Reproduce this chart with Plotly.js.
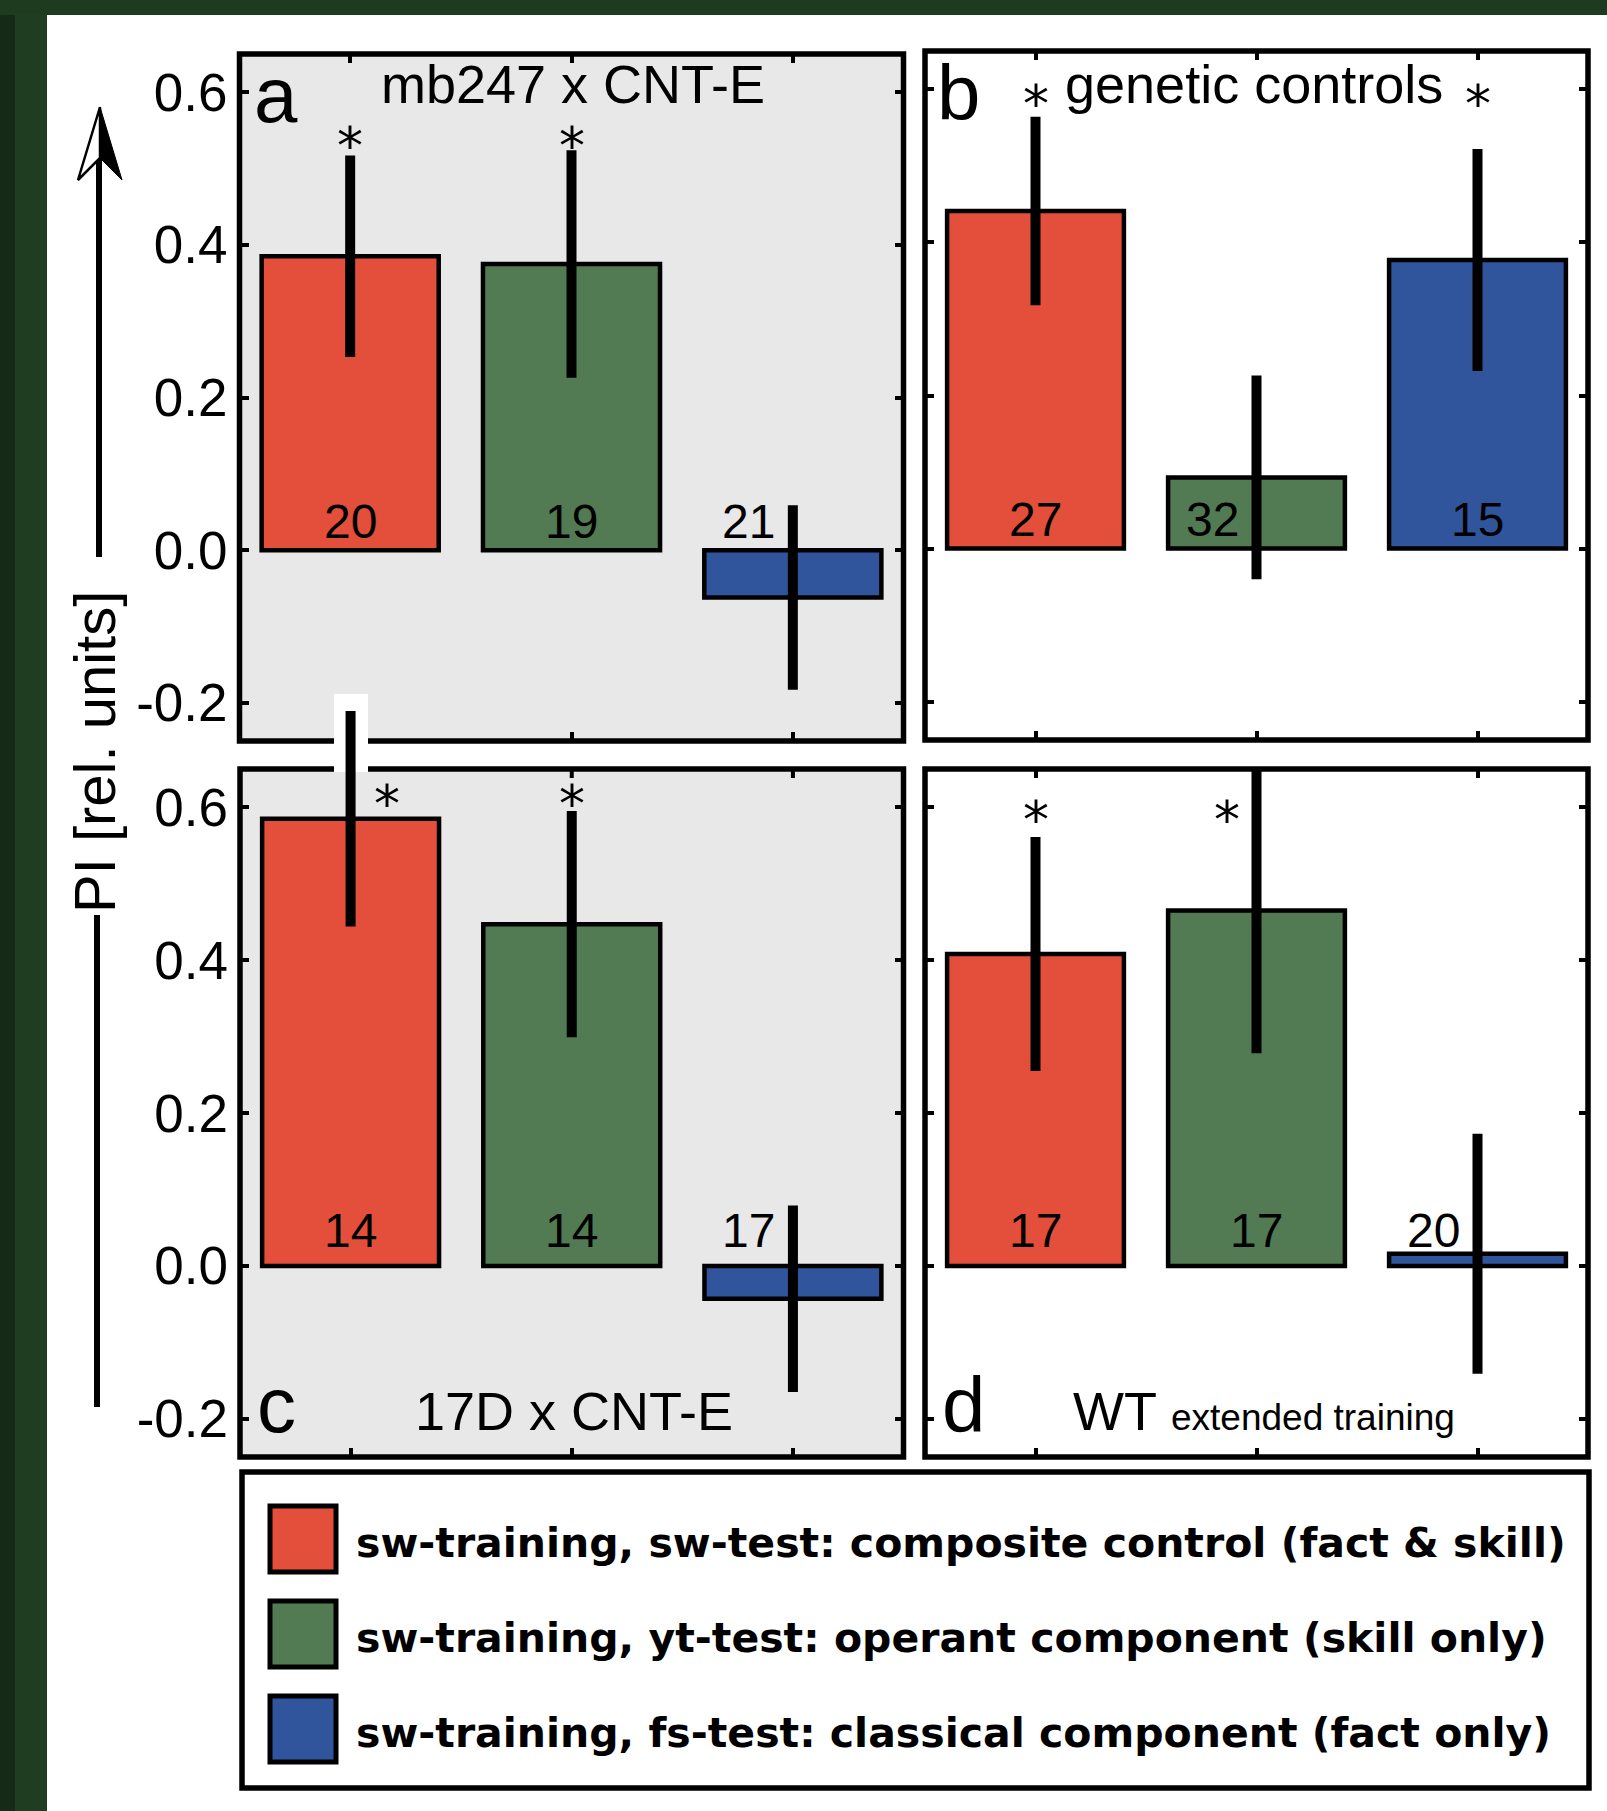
<!DOCTYPE html>
<html>
<head>
<meta charset="utf-8">
<script src="https://cdn.plot.ly/plotly-3.0.1.min.js"></script>
<style>
html, body { margin: 0; padding: 0; background: #ffffff; }
#chart { width: 1607px; height: 1811px; }
</style>
</head>
<body>
<div id="chart"></div>
<script>
// ------------------------- DATA -------------------------
const categories = ['sw-test', 'yt-test', 'fs-test'];
const seriesNames = [
  'sw-training, sw-test: composite control (fact & skill)',
  'sw-training, yt-test: operant component (skill only)',
  'sw-training, fs-test: classical component (fact only)'
];
const panelLetters = ['a', 'b', 'c', 'd'];
const panelTitles = ['mb247 x CNT-E', 'genetic controls', '17D x CNT-E', 'WT'];
const panelSubtitles = ['', '', '', 'extended training'];

const piA = [0.385, 0.375, -0.062];
const errA = [0.132, 0.149, 0.121];
const nA = [20, 19, 21];
const sigA = [true, true, false];

const piB = [0.441, 0.093, 0.377];
const errB = [0.123, 0.133, 0.145];
const nB = [27, 32, 15];
const sigB = [true, false, true];

const piC = [0.585, 0.447, -0.043];
const errC = [0.141, 0.148, 0.122];
const nC = [14, 14, 17];
const sigC = [true, true, false];

const piD = [0.408, 0.465, 0.016];
const errD = [0.153, 0.187, 0.157];
const nD = [17, 17, 20];
const sigD = [true, true, false];

const yTickVals = [-0.2, 0, 0.2, 0.4, 0.6];
const yTickText = ['-0.2', '0.0', '0.2', '0.4', '0.6'];
const yAxisTitle = 'PI [rel. units]';

// ------------------------- STYLE / LAYOUT -------------------------
const W = 1607, H = 1811;
const px = x => x / W;
const py = y => 1 - y / H;
const FONT = '"Liberation Sans", Arial, Helvetica, sans-serif';
const LEGEND_FONT = '"DejaVu Sans", Verdana, sans-serif';
const STAR_FONT = '"DejaVu Sans", sans-serif';
const colors = ['#e34f3a', '#527a53', '#30559d'];
const GRAY = '#e8e8e8';
const Y_MIN = -0.25, Y_MAX = 0.65;
const TICKLEN = 9, TICKW = 4;

// box = visible panel frame [left, top, right, bottom] in px; plotTop lets the drawing area reach above the frame
const panels = [
  { pi: piA, err: errA, n: nA, sig: sigA, box: [239.5, 54, 903.5, 741], bg: GRAY, labels: true,
    letterXY: [252, 95], titleX: 573, titleBase: 103, starY: 146, starShift: [0, 0, 0], nShiftY: 29 },
  { pi: piB, err: errB, n: nB, sig: sigB, box: [925, 51, 1588, 740], bg: '#ffffff', labels: false,
    letterXY: [935, 93], titleX: 1254, titleBase: 103, starY: 104, starShift: [0, 0, 0], nShiftY: 29 },
  { pi: piC, err: errC, n: nC, sig: sigC, box: [240, 769, 903.5, 1457], bg: GRAY, labels: true, plotTop: 694,
    letterXY: [255, 1405], titleX: 574, titleBase: 1430, starY: 804, starShift: [36, 0, 0], nShiftY: 35 },
  { pi: piD, err: errD, n: nD, sig: sigD, box: [925, 769, 1588, 1457], bg: '#ffffff', labels: false,
    letterXY: [940, 1405], titleX: 1264, titleBase: 1430, starY: 820, starShift: [0, -30, 0], nShiftY: 35 }
];
const TITLE_SIZE = 54;
const STAR_SIZE = 52;

const traces = [];
const shapes = [];
const annotations = [];

// dark green frame strips of the source figure
shapes.push({ type: 'rect', xref: 'paper', yref: 'paper', x0: 0, x1: px(47), y0: 0, y1: 1,
  fillcolor: '#1f3d20', line: { width: 0 }, layer: 'below' });
shapes.push({ type: 'rect', xref: 'paper', yref: 'paper', x0: 0, x1: px(15), y0: 0, y1: 1,
  fillcolor: '#162a18', line: { width: 0 }, layer: 'below' });
shapes.push({ type: 'rect', xref: 'paper', yref: 'paper', x0: 0, x1: 1, y0: py(15), y1: 1,
  fillcolor: '#1e3a1f', line: { width: 0 }, layer: 'below' });

const layout = {
  width: W, height: H,
  margin: { l: 0, r: 0, t: 0, b: 0 },
  paper_bgcolor: '#ffffff',
  plot_bgcolor: 'rgba(0,0,0,0)',
  showlegend: false,
  bargap: 0.2,
  font: { family: FONT, color: '#000000' },
  hovermode: false
};

const lateShapes = [];

panels.forEach((p, i) => {
  const k = i === 0 ? '' : String(i + 1);
  const xa = 'x' + k, ya = 'y' + k;
  const top = p.plotTop || p.box[1];
  const extended = top !== p.box[1];
  const pxPerUnit = (p.box[3] - p.box[1]) / (Y_MAX - Y_MIN);
  const rangeTop = Y_MAX + (p.box[1] - top) / pxPerUnit;

  layout['xaxis' + k] = {
    domain: [px(p.box[0]), px(p.box[2])], anchor: ya, type: 'category',
    range: [-0.5, 2.5], showticklabels: false, ticks: 'inside', ticklen: TICKLEN, tickwidth: TICKW,
    tickcolor: '#000', mirror: extended ? false : 'ticks', showline: false, showgrid: false,
    zeroline: false, fixedrange: true
  };
  layout['yaxis' + k] = {
    domain: [py(p.box[3]), py(top)], anchor: xa, range: [Y_MIN, rangeTop],
    tickvals: yTickVals, ticktext: yTickText, showticklabels: p.labels,
    tickfont: { size: 53, family: FONT, color: '#000' }, ticklabelstandoff: 11,
    ticks: 'inside', ticklen: TICKLEN, tickwidth: TICKW, tickcolor: '#000', mirror: 'ticks',
    showline: false, showgrid: false, zeroline: false, fixedrange: true
  };

  // panel frame + background
  shapes.push({ type: 'rect', xref: 'paper', yref: 'paper',
    x0: px(p.box[0]), x1: px(p.box[2]), y0: py(p.box[3]), y1: py(p.box[1]),
    fillcolor: p.bg, line: { color: '#000', width: 5.5 }, layer: 'below' });

  // top-edge ticks when the drawing area extends above the frame
  if (extended) {
    categories.forEach((c, j) => {
      lateShapes.push({ type: 'line', xref: xa, yref: 'paper', x0: j, x1: j,
        y0: py(p.box[1]), y1: py(p.box[1] + TICKLEN), line: { color: '#000', width: TICKW } });
    });
  }

  // bars with error bars
  traces.push({
    type: 'bar', x: categories, y: p.pi, xaxis: xa, yaxis: ya,
    marker: { color: colors, line: { color: '#000', width: 4.5 } },
    error_y: { type: 'data', array: p.err, visible: true, thickness: 10, width: 0, color: '#000' },
    hoverinfo: 'skip'
  });

  // panel letter
  annotations.push({ xref: 'paper', yref: 'paper', x: px(p.letterXY[0]), y: py(p.letterXY[1]),
    xanchor: 'left', yanchor: 'middle', showarrow: false, text: panelLetters[i],
    font: { size: 78, family: FONT, color: '#000' } });
  // panel title
  const title = panelSubtitles[i]
    ? panelTitles[i] + ' <span style="font-size:37px">' + panelSubtitles[i] + '</span>'
    : panelTitles[i];
  annotations.push({ xref: 'paper', yref: 'paper', x: px(p.titleX), y: py(p.titleBase - 0.3465 * TITLE_SIZE),
    xanchor: 'center', yanchor: 'middle', showarrow: false, text: title,
    font: { size: TITLE_SIZE, family: FONT, color: '#000' } });

  // sample sizes and significance stars
  categories.forEach((c, j) => {
    const nearZero = Math.abs(p.pi[j]) < 0.15;
    annotations.push({ xref: xa, yref: ya, x: c, y: 0, xanchor: 'center', yanchor: 'middle',
      xshift: nearZero ? -44 : 0, yshift: p.nShiftY, showarrow: false, text: String(p.n[j]),
      font: { size: 48, family: FONT, color: '#000' } });
    if (p.sig[j]) {
      annotations.push({ xref: xa, yref: 'paper', x: c, y: py(p.starY), xanchor: 'center', yanchor: 'middle',
        xshift: p.starShift[j], borderpad: 0, showarrow: false, text: '*',
        font: { size: STAR_SIZE, family: STAR_FONT, color: '#000' } });
    }
  });
});

// white patch behind the over-tall error bar of panel c
shapes.push({ type: 'rect', xref: 'paper', yref: 'paper', x0: px(334), x1: px(368), y0: py(772), y1: py(694),
  fillcolor: '#ffffff', line: { width: 0 }, layer: 'below' });
lateShapes.forEach(s => shapes.push(s));

// y-axis title with arrow
annotations.push({ xref: 'paper', yref: 'paper', x: px(95), y: py(752), xanchor: 'center', yanchor: 'middle',
  textangle: -90, showarrow: false, text: yAxisTitle, font: { size: 58, family: FONT, color: '#000' } });
shapes.push({ type: 'line', xref: 'paper', yref: 'paper', x0: px(99), x1: px(99), y0: py(150), y1: py(557),
  line: { color: '#000', width: 6 } });
shapes.push({ type: 'line', xref: 'paper', yref: 'paper', x0: px(97), x1: px(97), y0: py(915), y1: py(1407),
  line: { color: '#000', width: 6 } });
const P = (x, y) => px(x) + ',' + py(y);
shapes.push({ type: 'path', xref: 'paper', yref: 'paper',
  path: 'M' + P(100, 107) + ' L' + P(78, 180) + ' L' + P(100, 158) + ' Z',
  fillcolor: '#ffffff', line: { color: '#000', width: 2.5 } });
shapes.push({ type: 'path', xref: 'paper', yref: 'paper',
  path: 'M' + P(100, 107) + ' L' + P(122, 180) + ' L' + P(100, 158) + ' Z',
  fillcolor: '#000', line: { color: '#000', width: 1 } });

// legend box
shapes.push({ type: 'rect', xref: 'paper', yref: 'paper', x0: px(242), x1: px(1589), y0: py(1788), y1: py(1472),
  fillcolor: '#ffffff', line: { color: '#000', width: 5.5 }, layer: 'below' });
const legendRowY = [1539, 1634, 1729];
seriesNames.forEach((name, i) => {
  shapes.push({ type: 'rect', xref: 'paper', yref: 'paper', x0: px(270), x1: px(336),
    y0: py(legendRowY[i] + 33), y1: py(legendRowY[i] - 33),
    fillcolor: colors[i], line: { color: '#000', width: 5 } });
  annotations.push({ xref: 'paper', yref: 'paper', x: px(354), y: py(legendRowY[i] + 4),
    xanchor: 'left', yanchor: 'middle', showarrow: false, text: '<b>' + name + '</b>',
    font: { size: 41, family: LEGEND_FONT, color: '#000' } });
});

layout.shapes = shapes;
layout.annotations = annotations;

Plotly.newPlot('chart', traces, layout, { staticPlot: true, displayModeBar: false });
</script>
</body>
</html>
